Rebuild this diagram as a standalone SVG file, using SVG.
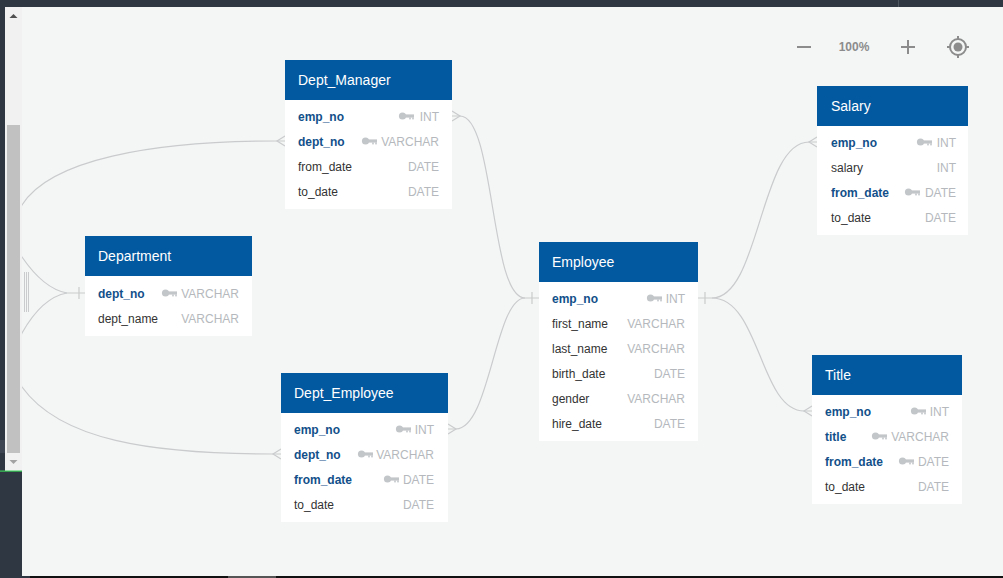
<svg xmlns="http://www.w3.org/2000/svg" xmlns:xlink="http://www.w3.org/1999/xlink" width="1003" height="578" viewBox="0 0 1003 578">
<style>
.hdr{fill:#03599f}
.body{fill:#ffffff}
.title{font-family:"Liberation Sans",Arial,sans-serif;font-size:14px;fill:#ffffff}
.f{font-family:"Liberation Sans",Arial,sans-serif;font-size:12px;fill:#333333}
.k{font-family:"Liberation Sans",Arial,sans-serif;font-size:12px;fill:#12508a;font-weight:bold}
.t{font-family:"Liberation Sans",Arial,sans-serif;font-size:12px;fill:#b5b9bd;text-anchor:end}
.ln{fill:none;stroke:#c9cbcc;stroke-width:1.2}
.ctl{fill:none;stroke:#8c8c8c;stroke-width:2}
</style>
<defs>
<g id="key" fill="#c3c6c9">
<circle cx="3.5" cy="0" r="3.6"/>
<rect x="6" y="-1.6" width="9" height="3.2"/>
<rect x="10.2" y="1.4" width="1.6" height="2"/>
<rect x="13.2" y="1.4" width="1.6" height="2"/>
</g>
</defs>

<!-- chrome -->
<rect x="0" y="0" width="1003" height="578" fill="#2f3742"/>
<rect x="22" y="7" width="981" height="569" fill="#f4f6f6"/>
<rect x="30" y="576" width="973" height="2" fill="#111111"/>
<rect x="228" y="576" width="48" height="2" fill="#555555"/>
<line x1="898.5" y1="0" x2="898.5" y2="7" stroke="#4d555f" stroke-width="1"/>

<!-- connectors -->
<g id="connectors">
<!-- Dept_Manager.emp_no -> Employee.emp_no -->
<path class="ln" d="M452 116 H460 C495 116 490 298 525 298 H539"/>
<path class="ln" d="M452 111 L460 116 L452 121"/>
<!-- Dept_Employee.emp_no -> Employee.emp_no -->
<path class="ln" d="M448 429 H456 C490 429 495 298 525 298"/>
<path class="ln" d="M448 424 L456 429 L448 434"/>
<line class="ln" x1="532" y1="292" x2="532" y2="304"/>
<!-- Department.dept_no -> Dept_Manager.dept_no -->
<path class="ln" d="M85 293 H67 C50 290 35 276 22 257 C14 240 14 220 22 205 C50 160 150 141 277 141 H285"/>
<path class="ln" d="M285 136 L277 141 L285 146"/>
<!-- Department.dept_no -> Dept_Employee.dept_no -->
<path class="ln" d="M67 293 C50 296 35 310 22 333 C14 350 14 372 22 387 C60 440 150 454 273 454 H281"/>
<path class="ln" d="M281 449 L273 454 L281 459"/>
<line class="ln" x1="79" y1="287" x2="79" y2="299"/>
<!-- Employee.emp_no -> Salary.emp_no -->
<path class="ln" d="M698 298 H712 C760 298 760 142 809 142 H817"/>
<path class="ln" d="M817 137 L809 142 L817 147"/>
<!-- Employee.emp_no -> Title.emp_no -->
<path class="ln" d="M712 298 C760 298 760 411 804 411 H812"/>
<path class="ln" d="M812 406 L804 411 L812 416"/>
<line class="ln" x1="705" y1="292" x2="705" y2="304"/>
</g>

<!-- left scrollbar panel -->
<rect x="0" y="7" width="5" height="464" fill="#2f3742"/>
<rect x="0" y="440" width="5" height="13" fill="#3d4652"/>
<rect x="5" y="7" width="17" height="464" fill="#f1f1f1"/>
<rect x="7" y="125" width="13" height="328" fill="#c1c1c1"/>
<path d="M9.5 18 L13.5 14 L17.5 18 Z" fill="#505050"/>
<path d="M9.5 460 L13.5 464 L17.5 460 Z" fill="#a3a3a3"/>
<rect x="0" y="470.5" width="22" height="1.2" fill="#3bcf5a"/>
<g stroke="#c9cbcc" stroke-width="1">
<line x1="24.5" y1="272" x2="24.5" y2="312"/>
<line x1="26.5" y1="272" x2="26.5" y2="312"/>
<line x1="28.5" y1="272" x2="28.5" y2="312"/>
</g>

<!-- zoom controls -->
<g id="zoom-controls">
<line class="ctl" x1="797" y1="47" x2="811" y2="47"/>
<text x="854" y="51" font-family="'Liberation Sans',Arial,sans-serif" font-size="12" font-weight="bold" fill="#8c8c8c" text-anchor="middle">100%</text>
<line class="ctl" x1="901" y1="47" x2="915" y2="47"/>
<line class="ctl" x1="908" y1="40" x2="908" y2="54"/>
<circle class="ctl" cx="958" cy="47" r="8"/>
<circle cx="958" cy="47" r="4.5" fill="#8c8c8c"/>
<line class="ctl" x1="958" y1="36" x2="958" y2="39"/>
<line class="ctl" x1="958" y1="55" x2="958" y2="58"/>
<line class="ctl" x1="947" y1="47" x2="950" y2="47"/>
<line class="ctl" x1="966" y1="47" x2="969" y2="47"/>
</g>

<!-- Dept_Manager -->
<g id="dept_manager">
<rect class="body" x="285" y="100" width="167" height="109"/>
<rect class="hdr" x="285" y="60" width="167" height="40"/>
<text class="title" x="298" y="85">Dept_Manager</text>
<text class="k" x="298" y="120.5">emp_no</text>
<use xlink:href="#key" x="399" y="116"/>
<text class="t" x="439" y="120.5">INT</text>
<text class="k" x="298" y="145.5">dept_no</text>
<use xlink:href="#key" x="362" y="141"/>
<text class="t" x="439" y="145.5">VARCHAR</text>
<text class="f" x="298" y="170.5">from_date</text>
<text class="t" x="439" y="170.5">DATE</text>
<text class="f" x="298" y="195.5">to_date</text>
<text class="t" x="439" y="195.5">DATE</text>
</g>

<!-- Department -->
<g id="department">
<rect class="body" x="85" y="276" width="167" height="60"/>
<rect class="hdr" x="85" y="236" width="167" height="40"/>
<text class="title" x="98" y="261">Department</text>
<text class="k" x="98" y="297.5">dept_no</text>
<use xlink:href="#key" x="162" y="293"/>
<text class="t" x="239" y="297.5">VARCHAR</text>
<text class="f" x="98" y="322.5">dept_name</text>
<text class="t" x="239" y="322.5">VARCHAR</text>
</g>

<!-- Employee -->
<g id="employee">
<rect class="body" x="539" y="282" width="159" height="159"/>
<rect class="hdr" x="539" y="242" width="159" height="40"/>
<text class="title" x="552" y="267">Employee</text>
<text class="k" x="552" y="302.5">emp_no</text>
<use xlink:href="#key" x="647" y="298"/>
<text class="t" x="685" y="302.5">INT</text>
<text class="f" x="552" y="327.5">first_name</text>
<text class="t" x="685" y="327.5">VARCHAR</text>
<text class="f" x="552" y="352.5">last_name</text>
<text class="t" x="685" y="352.5">VARCHAR</text>
<text class="f" x="552" y="377.5">birth_date</text>
<text class="t" x="685" y="377.5">DATE</text>
<text class="f" x="552" y="402.5">gender</text>
<text class="t" x="685" y="402.5">VARCHAR</text>
<text class="f" x="552" y="427.5">hire_date</text>
<text class="t" x="685" y="427.5">DATE</text>
</g>

<!-- Salary -->
<g id="salary">
<rect class="body" x="817" y="126" width="151" height="109"/>
<rect class="hdr" x="817" y="86" width="151" height="40"/>
<text class="title" x="831" y="111">Salary</text>
<text class="k" x="831" y="146.5">emp_no</text>
<use xlink:href="#key" x="917" y="142"/>
<text class="t" x="956" y="146.5">INT</text>
<text class="f" x="831" y="171.5">salary</text>
<text class="t" x="956" y="171.5">INT</text>
<text class="k" x="831" y="196.5">from_date</text>
<use xlink:href="#key" x="905" y="192"/>
<text class="t" x="956" y="196.5">DATE</text>
<text class="f" x="831" y="221.5">to_date</text>
<text class="t" x="956" y="221.5">DATE</text>
</g>

<!-- Title -->
<g id="title">
<rect class="body" x="812" y="395" width="150" height="109"/>
<rect class="hdr" x="812" y="355" width="150" height="40"/>
<text class="title" x="825" y="380">Title</text>
<text class="k" x="825" y="415.5">emp_no</text>
<use xlink:href="#key" x="911" y="411"/>
<text class="t" x="949" y="415.5">INT</text>
<text class="k" x="825" y="440.5">title</text>
<use xlink:href="#key" x="872" y="436"/>
<text class="t" x="949" y="440.5">VARCHAR</text>
<text class="k" x="825" y="465.5">from_date</text>
<use xlink:href="#key" x="899" y="461"/>
<text class="t" x="949" y="465.5">DATE</text>
<text class="f" x="825" y="490.5">to_date</text>
<text class="t" x="949" y="490.5">DATE</text>
</g>

<!-- Dept_Employee -->
<g id="dept_employee">
<rect class="body" x="281" y="413" width="167" height="109"/>
<rect class="hdr" x="281" y="373" width="167" height="40"/>
<text class="title" x="294" y="398">Dept_Employee</text>
<text class="k" x="294" y="433.5">emp_no</text>
<use xlink:href="#key" x="396" y="429"/>
<text class="t" x="434" y="433.5">INT</text>
<text class="k" x="294" y="458.5">dept_no</text>
<use xlink:href="#key" x="358" y="454"/>
<text class="t" x="434" y="458.5">VARCHAR</text>
<text class="k" x="294" y="483.5">from_date</text>
<use xlink:href="#key" x="384" y="479"/>
<text class="t" x="434" y="483.5">DATE</text>
<text class="f" x="294" y="508.5">to_date</text>
<text class="t" x="434" y="508.5">DATE</text>
</g>
</svg>
